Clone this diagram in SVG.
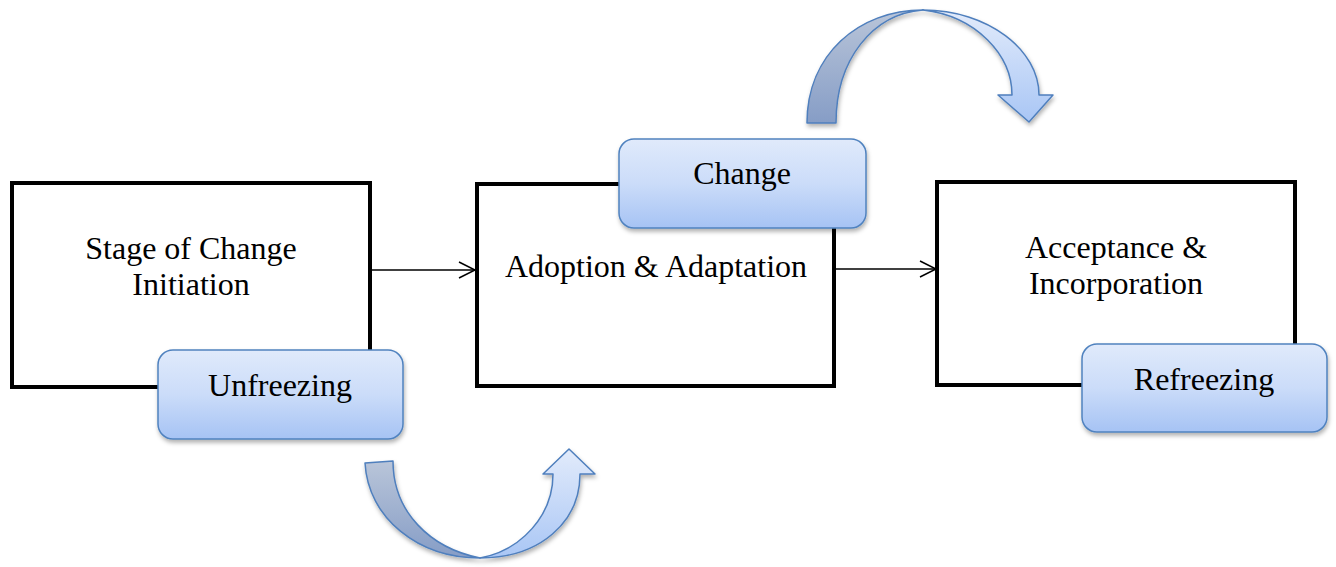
<svg xmlns="http://www.w3.org/2000/svg" width="1336" height="567" viewBox="0 0 1336 567">
<defs>
<linearGradient id="pillG" x1="0" y1="0" x2="0" y2="1">
<stop offset="0" stop-color="#e0eafb"/>
<stop offset="0.5" stop-color="#cbdcf9"/>
<stop offset="1" stop-color="#a6c3f4"/>
</linearGradient>
<linearGradient id="darkG" x1="0" y1="0" x2="0" y2="1">
<stop offset="0" stop-color="#b9c5d9"/>
<stop offset="1" stop-color="#869dc6"/>
</linearGradient>
<linearGradient id="lightG" x1="0" y1="0" x2="0" y2="1">
<stop offset="0" stop-color="#e2ebfb"/>
<stop offset="1" stop-color="#a9c6f5"/>
</linearGradient>
<filter id="sh" x="-10%" y="-10%" width="130%" height="140%">
<feDropShadow dx="1" dy="3" stdDeviation="2" flood-color="#000" flood-opacity="0.3"/>
</filter>
<marker id="arr" markerWidth="20" markerHeight="20" refX="18" refY="10" orient="auto" markerUnits="userSpaceOnUse">
<path d="M2,2 L18,10 L2,18" fill="none" stroke="#000" stroke-width="1.5"/>
</marker>
<style>
.box{fill:#fff;stroke:#000;stroke-width:4}
.pill{fill:url(#pillG);stroke:#5082bf;stroke-width:1.5;filter:url(#sh)}
.t{font-family:"Liberation Serif","Times New Roman",serif;font-size:32px;fill:#000;text-anchor:middle}
.ca{stroke:#4f7fbd;stroke-width:1.5;stroke-linejoin:round}
</style>
</defs>
<g id="connectors">
<line x1="371" y1="270" x2="475" y2="270" stroke="#000" stroke-width="1.5" marker-end="url(#arr)"/>
<line x1="835" y1="269" x2="936" y2="269" stroke="#000" stroke-width="1.5" marker-end="url(#arr)"/>
</g>
<g id="stage1">
<rect class="box" x="12" y="183" width="358" height="204"/>
<text class="t" x="191" y="259">Stage of Change</text>
<text class="t" x="191" y="295">Initiation</text>
</g>
<g id="stage2">
<rect class="box" x="477" y="184" width="357" height="202"/>
<text class="t" x="656" y="277">Adoption &amp; Adaptation</text>
</g>
<g id="stage3">
<rect class="box" x="937" y="182" width="358" height="203"/>
<text class="t" x="1116" y="258">Acceptance &amp;</text>
<text class="t" x="1116" y="294">Incorporation</text>
</g>
<g id="unfreezing">
<rect class="pill" x="158" y="350" width="245" height="89" rx="15"/>
<text class="t" x="280" y="396">Unfreezing</text>
</g>
<g id="change">
<rect class="pill" x="619" y="139" width="247" height="89" rx="15"/>
<text class="t" x="742" y="184">Change</text>
</g>
<g id="refreezing">
<rect class="pill" x="1082" y="344" width="245" height="88" rx="15"/>
<text class="t" x="1204" y="390">Refreezing</text>
</g>
<g id="arrow-top" filter="url(#sh)">
<path class="ca" fill="url(#darkG)" d="M807,123 C807,55 858,10 923,10 C872,14 836,60 836,123 Z"/>
<path class="ca" fill="url(#lightG)" d="M923,10 C988,10 1039,50 1039,95 L1053,95 L1029,122 L998,95 L1012,95 C1012,55 976,16 923,10 Z"/>
</g>
<g id="arrow-bottom" filter="url(#sh)">
<path class="ca" fill="url(#darkG)" d="M365,463 L393,461 C393,512 430,548 480,558 C418,558 368,518 365,463 Z"/>
<path class="ca" fill="url(#lightG)" d="M480,558 C540,558 580,522 580,474 L595,474 L569,449 L543,474 L553,474 C553,515 522,550 480,558 Z"/>
</g>
</svg>
